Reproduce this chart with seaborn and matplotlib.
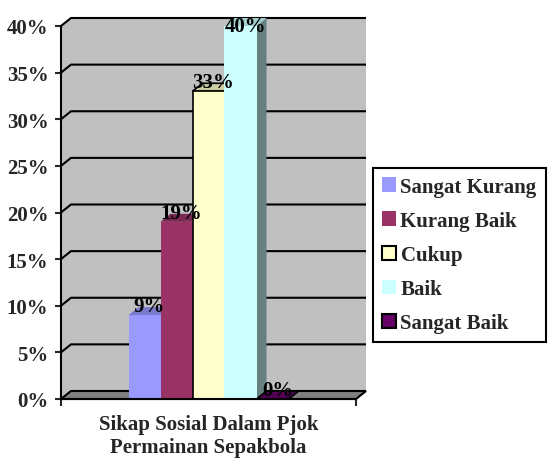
import matplotlib
matplotlib.use("Agg")
import matplotlib.pyplot as plt
from matplotlib.patches import Patch, Polygon
import pandas as pd
import seaborn as sns

# Data
categories = ["Sangat Kurang", "Kurang Baik", "Cukup", "Baik", "Sangat Baik"]
values = [9, 19, 33, 40, 0]  # percent
bar_colors = ["#9999ff", "#993366", "#ffffcc", "#ccffff", "#660066"]
edge_colors = ["none", "none", "black", "none", "black"]
group_label = "Sikap Sosial Dalam Pjok\nPermainan Sepakbola"
y_ticks = [0, 5, 10, 15, 20, 25, 30, 35, 40]

sns.set_theme(style="white")
plt.rcParams["font.family"] = ["Liberation Serif", "DejaVu Serif"]
plt.rcParams["font.weight"] = "bold"


def shade(color, factor):
    r, g, b = matplotlib.colors.to_rgb(color)
    return (r * factor, g * factor, b * factor)


df = pd.DataFrame({"group": [group_label] * len(categories),
                   "kategori": categories,
                   "nilai": values})

W, H = 548, 460
fig = plt.figure(figsize=(W / 100, H / 100), dpi=100)
ax = fig.add_axes([61 / W, (H - 400) / H, (356 - 61) / W, (400 - 27) / H])

sns.barplot(data=df, x="group", y="nilai", hue="kategori", hue_order=categories,
            palette=bar_colors, saturation=1, width=0.8, gap=0, legend=False,
            errorbar=None, ax=ax, zorder=3)

xmin, xmax = -0.7375, 0.7375
ax.set_xlim(xmin, xmax)
ax.set_ylim(0, 40)

# depth offset of the 3D look, in pixels -> data units
ppx = ax.bbox.width / (xmax - xmin)
ppy = ax.bbox.height / 40
dx, dy = 10 / ppx, 8 / ppy

# back wall, side wall and floor
ax.add_patch(Polygon([(xmin + dx, dy), (xmax + dx, dy), (xmax + dx, 40 + dy), (xmin + dx, 40 + dy)],
                     closed=True, facecolor="#c0c0c0", edgecolor="none", zorder=0, clip_on=False))
ax.add_patch(Polygon([(xmin, 0), (xmin, 40), (xmin + dx, 40 + dy), (xmin + dx, dy)],
                     closed=True, facecolor="#c0c0c0", edgecolor="none", zorder=0, clip_on=False))
for t in y_ticks[1:]:
    ax.plot([xmin, xmin + dx, xmax + dx], [t, t + dy, t + dy], color="black", lw=1.5,
            zorder=0.5, clip_on=False, solid_capstyle="butt")
ax.add_patch(Polygon([(xmin, 0), (xmax, 0), (xmax + dx, dy), (xmin + dx, dy)],
                     closed=True, facecolor="#808080", edgecolor="black", lw=1.5,
                     zorder=0.8, clip_on=False))

# 3D faces of the bars
bars = sorted([p for p in ax.patches if isinstance(p, matplotlib.patches.Rectangle)
               and p.get_width() < 0.5], key=lambda p: p.get_x())
for bar, col, ec, v in zip(bars, bar_colors, edge_colors, values):
    x0, w, h = bar.get_x(), bar.get_width(), bar.get_height()
    lw = 1.2 if ec != "none" else 0
    bar.set_edgecolor(ec)
    bar.set_linewidth(lw)
    side = Polygon([(x0 + w, 0), (x0 + w, h), (x0 + w + dx, h + dy), (x0 + w + dx, dy)],
                   closed=True, facecolor=shade(col, 0.5), edgecolor=ec,
                   lw=lw, zorder=1, clip_on=False)
    top = Polygon([(x0, h), (x0 + w, h), (x0 + w + dx, h + dy), (x0 + dx, h + dy)],
                  closed=True, facecolor=shade(col, 0.8), edgecolor=ec,
                  lw=lw, zorder=1.5, clip_on=False)
    ax.add_patch(side)
    ax.add_patch(top)
    # Excel keeps the label inside the plot area
    ty = min(h + 9 / ppy, 40)
    ax.text(x0 + w / 2 + dx / 2, ty, f"{v}%", ha="center", va="center",
            fontsize=15, fontweight="bold", color="black", zorder=5, clip_on=False)

# axes styling
for s in ["top", "right"]:
    ax.spines[s].set_visible(False)
for s in ["left", "bottom"]:
    ax.spines[s].set_color("black")
    ax.spines[s].set_linewidth(1.5)
    ax.spines[s].set_zorder(4)
ax.set_yticks(y_ticks, labels=[f"{t}%" for t in y_ticks])
ax.set_xticks([xmin, xmax], labels=["", ""])
ax.tick_params(axis="y", direction="out", length=4, width=1.5, pad=5,
               labelsize=15, left=True)
ax.tick_params(axis="x", direction="out", length=5, width=1.5, bottom=True, pad=0)
for lab in ax.get_yticklabels():
    lab.set_fontweight("bold")
ax.set_ylabel("")
ax.set_xlabel(group_label, fontsize=15, fontweight="bold", labelpad=6, linespacing=1.2)
ax.set_facecolor("none")
ax.grid(False)

handles = [Patch(facecolor=c, edgecolor=("black" if e != "none" else c), lw=1.5 if e != "none" else 0)
           for c, e in zip(bar_colors, edge_colors)]
leg = fig.legend(handles, categories, loc="upper left",
                 bbox_to_anchor=(373 / W, (H - 169) / H),
                 frameon=True, fancybox=False, edgecolor="black", framealpha=1,
                 prop={"size": 15, "weight": "bold"}, handlelength=0.7,
                 handleheight=0.7, handletextpad=0.2, labelspacing=0.68,
                 borderpad=0.42, borderaxespad=0)
leg.get_frame().set_linewidth(1.5)

fig.savefig("out.png", dpi=100)
